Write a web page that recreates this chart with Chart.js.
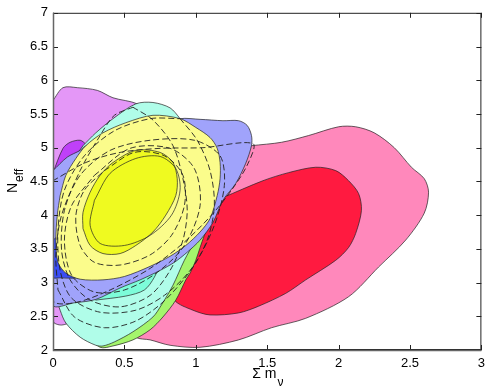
<!DOCTYPE html>
<html lang="en">
<head>
<meta charset="UTF-8">
<title>Neff vs sum of neutrino masses</title>
<script src="https://cdn.jsdelivr.net/npm/chart.js"></script>
<style>
  * { margin: 0; padding: 0; box-sizing: border-box; }
  body { background: #fff; width: 491px; height: 392px; overflow: hidden; }
</style>
</head>
<body>
<canvas id="chart" width="491" height="392"></canvas>
<script>
// axis ticks
const xTicks = [0, 0.5, 1, 1.5, 2, 2.5, 3];
const yTicks = [2, 2.5, 3, 3.5, 4, 4.5, 5, 5.5, 6, 6.5, 7];

// contour outlines, [sum m_nu, N_eff]
const pinkOuter = [[1.39,5.03],[1.60,5.08],[1.79,5.18],[2.00,5.31],[2.12,5.31],[2.25,5.22],[2.39,5.00],[2.51,4.71],[2.60,4.54],[2.63,4.34],[2.60,4.03],[2.47,3.63],[2.28,3.23],[2.07,2.79],[1.77,2.47],[1.53,2.33],[1.30,2.15],[1.03,2.04],[0.82,2.07],[0.68,2.15],[0.58,2.19],[0.50,2.44],[0.61,3.33],[0.82,4.07],[1.10,4.66]];
const redInner = [[1.19,4.26],[1.47,4.51],[1.65,4.63],[1.84,4.71],[1.98,4.66],[2.07,4.51],[2.14,4.32],[2.16,4.07],[2.12,3.73],[2.07,3.52],[1.98,3.33],[1.77,3.04],[1.63,2.84],[1.44,2.65],[1.30,2.55],[1.10,2.52],[0.98,2.59],[0.85,2.74],[0.82,3.04],[0.96,3.78],[1.10,4.14]];
const violetOuter = [[0,5.70],[0.07,5.89],[0.17,5.89],[0.31,5.85],[0.42,5.74],[0.59,5.65],[0.64,5.52],[0.33,5.11],[0.26,4.22],[0.19,2.89],[0.13,2.44],[0.06,2.37],[0,2.43]];
const violetInner = [[0,4.63],[0.07,4.99],[0.12,5.08],[0.19,5.11],[0.23,5.05],[0.33,4.81],[0.26,4.22],[0.05,3.92],[0,3.92]];
const greenOuter = [[1.19,4.28],[1.12,4.03],[1.06,3.70],[1.03,3.52],[1.00,3.33],[0.96,3.14],[0.93,3.04],[0.86,2.74],[0.77,2.49],[0.68,2.30],[0.56,2.15],[0.42,2.06],[0.33,2.04],[0.26,2.22],[0.47,2.74],[0.75,3.48],[0.96,4.00],[1.10,4.37]];
const cyanOuter = [[0.21,5.03],[0.30,5.22],[0.42,5.43],[0.58,5.65],[0.70,5.67],[0.82,5.59],[0.89,5.43],[1.06,4.96],[1.11,4.37],[1.10,3.97],[1.00,3.63],[0.92,3.33],[0.84,2.96],[0.76,2.67],[0.70,2.49],[0.56,2.27],[0.43,2.12],[0.35,2.06],[0.30,2.07],[0.19,2.19],[0.09,2.40],[0.05,2.59],[0.03,2.74],[0.02,3.48],[0.05,4.22],[0.12,4.74]];
const cyanInner = [[0.30,2.74],[0.51,2.80],[0.64,2.89],[0.71,3.08],[0.75,3.30],[0.78,3.78],[0.61,4.22],[0.33,4.07],[0.22,3.48],[0.19,2.96]];
const blueOuter = [[0,4.66],[0.10,4.86],[0.19,4.96],[0.23,5.03],[0.54,5.25],[0.89,5.43],[1.03,5.42],[1.19,5.40],[1.30,5.40],[1.36,5.33],[1.39,5.18],[1.39,5.03],[1.35,4.77],[1.28,4.47],[1.19,4.22],[1.12,3.89],[1.03,3.63],[0.94,3.45],[0.85,3.30],[0.75,3.18],[0.61,3.04],[0.47,2.92],[0.30,2.75],[0.15,2.70],[0,2.67]];
const blueInner = [[0,3.63],[0.03,3.69],[0.12,4.22],[0.40,4.44],[0.68,4.22],[0.61,3.48],[0.33,3.15],[0.17,3.07],[0.05,3.07],[0,3.08]];
const yellowOuter = [[0.05,4.29],[0.09,4.59],[0.16,4.84],[0.23,5.03],[0.35,5.22],[0.51,5.37],[0.70,5.48],[0.89,5.43],[1.00,5.30],[1.10,5.15],[1.15,4.99],[1.17,4.78],[1.17,4.54],[1.15,4.29],[1.10,3.95],[1.03,3.75],[0.93,3.55],[0.82,3.39],[0.68,3.24],[0.50,3.09],[0.35,3.04],[0.19,3.05],[0.09,3.14],[0.035,3.30],[0.02,3.63],[0.03,4.00]];
const yellowInner = [[0.21,3.80],[0.21,4.04],[0.26,4.34],[0.33,4.59],[0.42,4.78],[0.58,4.96],[0.75,4.93],[0.84,4.78],[0.87,4.54],[0.86,4.29],[0.79,4.00],[0.70,3.75],[0.58,3.55],[0.47,3.43],[0.35,3.43],[0.26,3.55]];
const innerLine = [[0.29,4.22],[0.40,4.62],[0.58,4.84],[0.75,4.87],[0.86,4.69],[0.89,4.37],[0.83,4.00],[0.68,3.70],[0.50,3.55],[0.33,3.58],[0.26,3.85]];
const dashA = [[0,4.51],[0.23,4.78],[0.47,4.93],[0.75,4.99],[1.05,5.00],[1.40,5.06],[1.36,4.74],[1.25,4.37],[1.11,4.00],[0.92,3.60],[0.68,3.21],[0.40,2.89],[0.15,2.70],[0,2.74]];
const dashB = [[0.56,5.60],[0.70,5.41],[0.84,5.03],[0.91,4.54],[0.94,4.07],[0.91,3.63],[0.82,3.18],[0.68,2.81],[0.47,2.64],[0.26,2.74],[0.12,3.04],[0.06,3.48],[0.08,4.07],[0.19,4.66],[0.33,5.18],[0.43,5.48]];
const dashC = [[0.89,5.43],[1.01,5.11],[1.10,4.66],[1.13,4.14],[1.08,3.63],[0.96,3.18],[0.78,2.81],[0.58,2.59],[0.33,2.56],[0.13,2.77],[0.05,3.18],[0.035,3.78],[0.08,4.37],[0.22,4.88],[0.43,5.25],[0.68,5.43]];
const dashD = [[0.035,2.89],[0.15,2.49],[0.36,2.33],[0.58,2.43],[0.79,2.75],[0.99,3.26],[1.13,3.85],[1.20,4.44],[1.17,4.88],[0.99,5.11],[0.68,5.11],[0.40,4.96],[0.19,4.59],[0.06,4.00],[0.02,3.41]];
const dashE = [[0.36,4.66],[0.57,4.93],[0.78,4.88],[0.91,4.59],[0.92,4.14],[0.83,3.70],[0.68,3.41],[0.47,3.26],[0.29,3.30],[0.19,3.55],[0.16,3.99],[0.22,4.37]];
const dashF = [[0.29,4.59],[0.54,4.99],[0.82,4.99],[0.99,4.69],[1.03,4.14],[0.92,3.55],[0.73,3.15],[0.50,2.89],[0.29,2.86],[0.13,3.11],[0.08,3.63],[0.13,4.14]];

// drawing order: first entry at the bottom
const layers = [
  { pts: pinkOuter, color: '#ff88bb' },
  { pts: redInner, color: '#ff1a40' },
  { pts: violetOuter, color: '#e497f7' },
  { pts: violetInner, color: '#bf40f8' },
  { pts: greenOuter, color: '#a4f56c' },
  { pts: cyanOuter, color: '#b0fde9' },
  { pts: cyanInner, color: '#7dfcd9' },
  { pts: blueOuter, color: '#a0a3fb' },
  { pts: blueInner, color: '#3a4df5' },
  { pts: yellowOuter, color: '#fbfc8b' },
  { pts: yellowInner, color: '#effa20' },
  { pts: innerLine },
  { pts: dashA, dash: true },
  { pts: dashB, dash: true },
  { pts: dashC, dash: true },
  { pts: dashD, dash: true },
  { pts: dashE, dash: true },
  { pts: dashF, dash: true }
];

function closed(arr) {
  const p = arr.map(([x, y]) => ({ x, y }));
  p.push({ x: arr[0][0], y: arr[0][1] });
  return p;
}

const datasets = layers.map((l, i) => ({
  data: closed(l.pts),
  showLine: true,
  fill: l.color ? 'shape' : false,
  backgroundColor: l.color || 'rgba(0,0,0,0)',
  borderColor: '#222',
  borderWidth: l.dash ? 0.9 : 0.7,
  borderDash: l.dash ? [6, 3] : [],
  pointRadius: 0,
  pointHoverRadius: 0,
  tension: 0.3,
  order: layers.length - i
}));

const framePlugin = {
  id: 'frame',
  afterDraw(chart) {
    const { ctx, chartArea: a, scales: { x, y } } = chart;
    ctx.save();
    ctx.strokeStyle = '#222';
    ctx.lineWidth = 1;
    ctx.beginPath();
    xTicks.forEach(v => {
      const px = Math.round(x.getPixelForValue(v)) + 0.5;
      ctx.moveTo(px, a.bottom); ctx.lineTo(px, a.bottom - 5);
      ctx.moveTo(px, a.top); ctx.lineTo(px, a.top + 5);
    });
    yTicks.forEach(v => {
      const py = Math.round(y.getPixelForValue(v)) + 0.5;
      ctx.moveTo(a.left, py); ctx.lineTo(a.left + 5, py);
      ctx.moveTo(a.right, py); ctx.lineTo(a.right - 5, py);
    });
    ctx.stroke();
    ctx.strokeRect(a.left + 0.5, a.top + 0.5, a.right - a.left - 1, a.bottom - a.top - 1);
    ctx.strokeStyle = '#666';
    ctx.lineWidth = 1.5;
    ctx.beginPath();
    ctx.moveTo(a.left + 0.5, a.top); ctx.lineTo(a.left + 0.5, a.bottom + 0.5); ctx.lineTo(a.right, a.bottom + 0.5);
    ctx.stroke();

    // axis titles with subscripts
    ctx.fillStyle = '#000';
    ctx.textBaseline = 'alphabetic';
    const cx = (a.left + a.right) / 2;
    ctx.font = '14px "Liberation Sans", Arial, sans-serif';
    ctx.fillText('Σ m', cx - 15, 378);
    const w = ctx.measureText('Σ m').width;
    ctx.font = '12px "Liberation Sans", Arial, sans-serif';
    ctx.fillText('ν', cx - 15 + w + 1, 386);

    ctx.translate(17, 193);
    ctx.rotate(-Math.PI / 2);
    ctx.font = '14px "Liberation Sans", Arial, sans-serif';
    ctx.fillText('N', 0, 0);
    const nw = ctx.measureText('N').width;
    ctx.font = '12px "Liberation Sans", Arial, sans-serif';
    ctx.fillText('eff', nw + 1, 6);
    ctx.restore();
  }
};

new Chart(document.getElementById('chart'), {
  type: 'scatter',
  data: { datasets },
  options: {
    responsive: false,
    animation: false,
    events: [],
    layout: { padding: { top: 12, right: 8, left: 0, bottom: 0 } },
    plugins: {
      legend: { display: false },
      tooltip: { enabled: false },
      filler: { propagate: false }
    },
    scales: {
      x: {
        type: 'linear',
        min: 0, max: 3,
        afterFit: s => { s.height = 42; },
        afterBuildTicks: s => { s.ticks = xTicks.map(v => ({ value: v })); },
        grid: { display: false, drawTicks: false },
        border: { display: false },
        ticks: { padding: 6, color: '#000', font: { family: '"Liberation Sans", Arial, sans-serif', size: 13 }, maxRotation: 0, callback: v => String(v) }
      },
      y: {
        type: 'linear',
        min: 2, max: 7,
        afterFit: s => { s.width = 53; },
        afterBuildTicks: s => { s.ticks = yTicks.map(v => ({ value: v })); },
        grid: { display: false, drawTicks: false },
        border: { display: false },
        ticks: { padding: 5, color: '#000', font: { family: '"Liberation Sans", Arial, sans-serif', size: 13 }, callback: v => String(v) }
      }
    }
  },
  plugins: [framePlugin]
});
</script>
</body>
</html>
